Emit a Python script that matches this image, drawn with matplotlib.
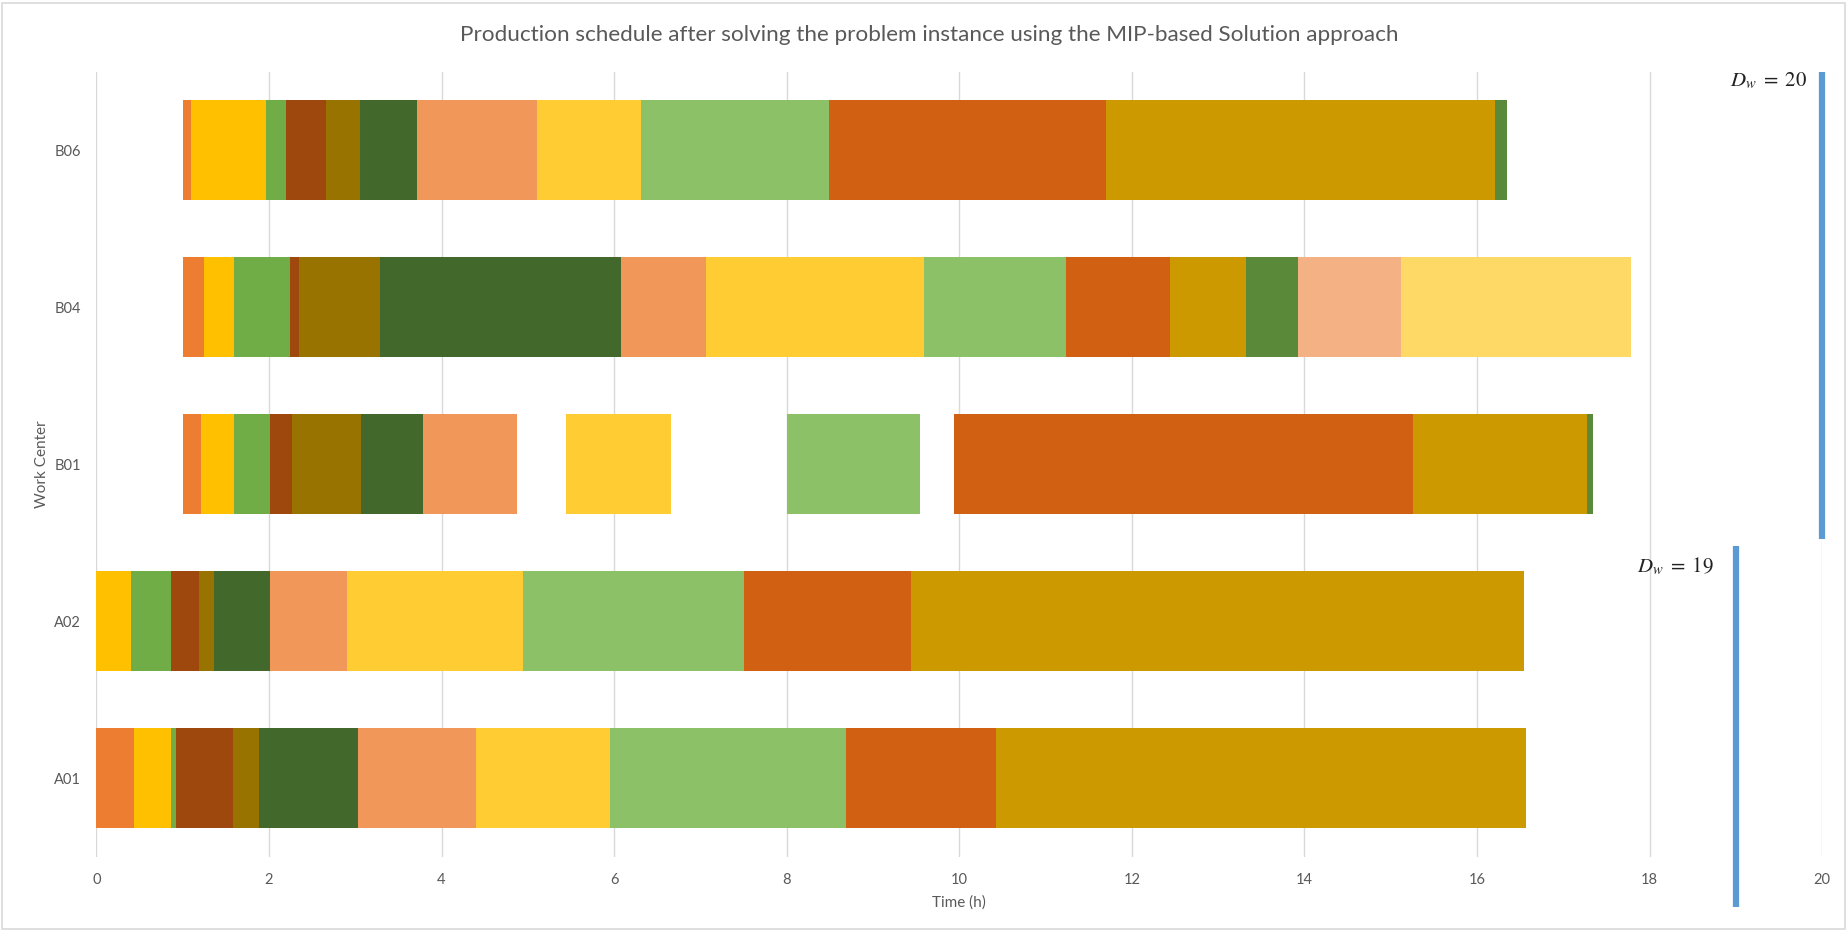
import numpy as np
import matplotlib
matplotlib.use("Agg")
import matplotlib.pyplot as plt
from matplotlib.patches import Rectangle

# Work centers, bottom to top
centers = ["A01", "A02", "B01", "B04", "B06"]

# Series colours (one per job position in the sequence)
series_colors = ["#ED7D31", "#FFC000", "#70AD47", "#9E480E", "#997300", "#43682B",
                 "#F1975A", "#FFCD33", "#8CC168", "#D26012", "#CC9A00", "#5A8A39",
                 "#F4B183", "#FFD966"]

# Start / end times (h) of each job per work center
a01_start = [0.00, 0.43, 0.86, 0.92, 1.58, 1.88, 3.03, 4.40, 5.95, 8.69, 10.43]
a01_end   = [0.43, 0.86, 0.92, 1.58, 1.88, 3.03, 4.40, 5.95, 8.69, 10.43, 16.57]

a02_start = [0.00, 0.00, 0.40, 0.87, 1.19, 1.36, 2.01, 2.90, 4.94, 7.50, 9.44]
a02_end   = [0.00, 0.40, 0.87, 1.19, 1.36, 2.01, 2.90, 4.94, 7.50, 9.44, 16.55]

b01_start = [1.00, 1.21, 1.59, 2.01, 2.27, 3.07, 3.79, 5.44, 8.00, 9.94, 15.26, 17.28]
b01_end   = [1.21, 1.59, 2.01, 2.27, 3.07, 3.79, 4.87, 6.66, 9.54, 15.26, 17.28, 17.34]

b04_start = [1.00, 1.25, 1.59, 2.24, 2.35, 3.29, 6.08, 7.06, 9.59, 11.24, 12.44, 13.32, 13.93, 15.12]
b04_end   = [1.25, 1.59, 2.24, 2.35, 3.29, 6.08, 7.06, 9.59, 11.24, 12.44, 13.32, 13.93, 15.12, 17.78]

b06_start = [1.00, 1.10, 1.97, 2.20, 2.66, 3.05, 3.71, 5.11, 6.31, 8.49, 11.70, 16.21]
b06_end   = [1.10, 1.97, 2.20, 2.66, 3.05, 3.71, 5.11, 6.31, 8.49, 11.70, 16.21, 16.35]

schedule = [(a01_start, a01_end), (a02_start, a02_end), (b01_start, b01_end),
            (b04_start, b04_end), (b06_start, b06_end)]

# Due dates: (value, y range in category units)
due_values = [20, 19]
due_spans = [(1.52, 4.5), (-0.82, 1.48)]

GRAY = "#595959"
plt.rcParams["mathtext.fontset"] = "stix"

fig = plt.figure(figsize=(18.47, 9.30), dpi=100)
ax = fig.add_axes([0.0522, 0.079, 0.9343, 0.844])

for row, (starts, ends) in enumerate(schedule):
    s = np.array(starts)
    e = np.array(ends)
    ax.barh(np.full(len(s), row), e - s, left=s, height=0.64,
            color=series_colors[:len(s)], linewidth=0, zorder=3)

ax.set_xlim(0, 20)
ax.set_ylim(-0.5, 4.5)
ax.set_xticks(np.arange(0, 21, 2))
ax.set_yticks(range(len(centers)))
ax.set_yticklabels(centers)
ax.grid(axis="x", color="#D9D9D9", linewidth=1.0, zorder=0)
ax.set_axisbelow(True)
for sp in ax.spines.values():
    sp.set_visible(False)
ax.tick_params(length=0, colors=GRAY, labelsize=10.5, pad=12)
ax.tick_params(axis="y", pad=11)
for lbl in ax.get_xticklabels() + ax.get_yticklabels():
    lbl.set_fontfamily("Lato")

ax.set_xlabel("Time (h)", color=GRAY, fontsize=11, family="Lato", labelpad=6)
ax.set_ylabel("Work Center", color=GRAY, fontsize=11, family="Lato", labelpad=4)

# Due-date markers
for val, (y0, y1) in zip(due_values, due_spans):
    ax.plot([val, val], [y0, y1], color="#5B9BD5", linewidth=4.5,
            solid_capstyle="butt", clip_on=False, zorder=5)

ax.text(19.83, 4.44, r"$D_w\;=\;20$", ha="right", va="center", fontsize=15, color="#222222")
ax.text(18.74, 1.35, r"$D_w\;=\;19$", ha="right", va="center", fontsize=15, color="#222222")

fig.text(0.503, 0.962,
         "Production schedule after solving the problem instance using the MIP-based Solution approach",
         ha="center", va="center", fontsize=16.2, color=GRAY, family="Lato")

# Chart border
fig.patches.append(Rectangle((0.001, 0.001), 0.998, 0.996, transform=fig.transFigure,
                             fill=False, edgecolor="#D9D9D9", linewidth=1.2))

fig.savefig("out.png", dpi=100)
plt.close(fig)
